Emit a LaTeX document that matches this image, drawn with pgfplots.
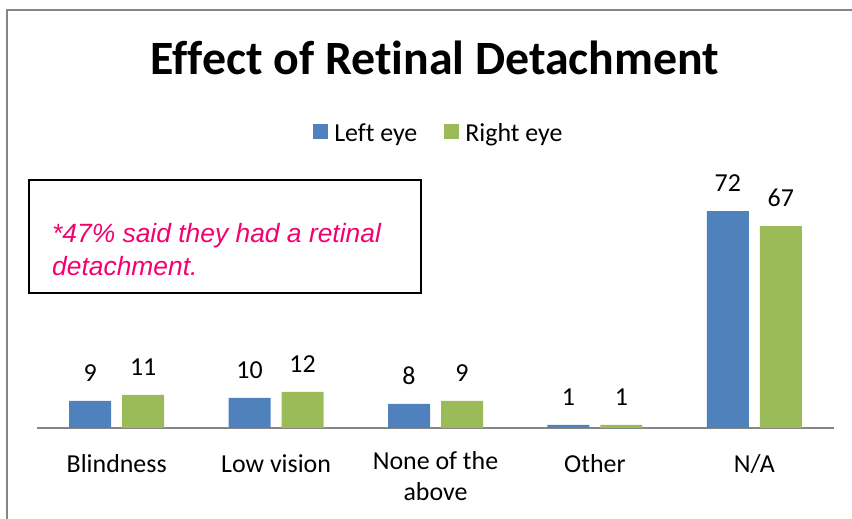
\documentclass[border=0pt]{standalone}
\usepackage{fontspec}
\setmainfont{Carlito}[Ligatures={NoCommon,NoContextual}]
\newfontfamily\notefont{Liberation Sans}
\usepackage{pgfplots}
\pgfplotsset{compat=1.18}
\definecolor{lefteye}{HTML}{4F81BD}
\definecolor{righteye}{HTML}{9BBB59}
\definecolor{axisgray}{HTML}{868686}
\definecolor{notepink}{HTML}{F5006E}
\newcommand{\lblfont}{\fontsize{26}{31}\selectfont}

\begin{document}
\begin{tikzpicture}[x=1bp,y=1bp]
\path[use as bounding box] (0,0) rectangle (852,519);
% chart frame (only left and top edges fall inside the picture)
\draw[axisgray, line width=1.5bp] (7,-2) -- (7,509) -- (854,509);

\node[anchor=base, font=\bfseries\fontsize{48}{56}\selectfont] at (435,444) {Effect of Retinal Detachment};

\begin{axis}[
  at={(37bp,91bp)}, anchor=south west,
  width=797bp, height=241.1bp, scale only axis,
  xmin=-0.5, xmax=4.5, ymin=0, ymax=80,
  ybar=11bp, bar width=42bp,
  axis y line=none,
  axis x line*=bottom,
  x axis line style={-, axisgray, line width=1.5bp},
  major tick length=0,
  xtick={0,1,2,3,4},
  xticklabels={Blindness, Low vision, {None of the\\above}, Other, N/A},
  xticklabel style={font=\lblfont, align=center, anchor=north, inner sep=0pt,
    execute at begin node=\strut, yshift=-23bp},
  /pgf/number format/assume math mode=true,
  nodes near coords,
  every node near coord/.append style={font=\lblfont, inner sep=0pt, anchor=south, yshift=19bp, black},
  clip=false,
  legend columns=2,
  legend style={at={(0.503,1.224)}, anchor=center, draw=none, fill=none,
    font=\lblfont, nodes={inner sep=0pt},
    /tikz/every odd column/.append style={column sep=6bp},
    /tikz/every even column/.append style={column sep=27bp}},
  legend image code/.code={\fill[#1] (0bp,-6bp) rectangle (15bp,9bp);},
]
\addplot[fill=lefteye, draw=none] coordinates {(0,9) (1,10) (2,8) (3,1) (4,72)};
\addlegendentry{Left eye}
\addplot[fill=righteye, draw=none] coordinates {(0,11) (1,12) (2,9) (3,1) (4,67)};
\addlegendentry{Right eye}
\end{axis}

% note box
\draw[black, line width=2bp] (29,339) rectangle (421,226);
\node[anchor=base west, inner sep=0pt, text=notepink, font=\notefont\itshape\fontsize{26.5}{33}\selectfont] at (52,276) {*47\% said they had a retinal};
\node[anchor=base west, inner sep=0pt, text=notepink, font=\notefont\itshape\fontsize{26.5}{33}\selectfont] at (52,243) {detachment.};
\end{tikzpicture}
\end{document}
